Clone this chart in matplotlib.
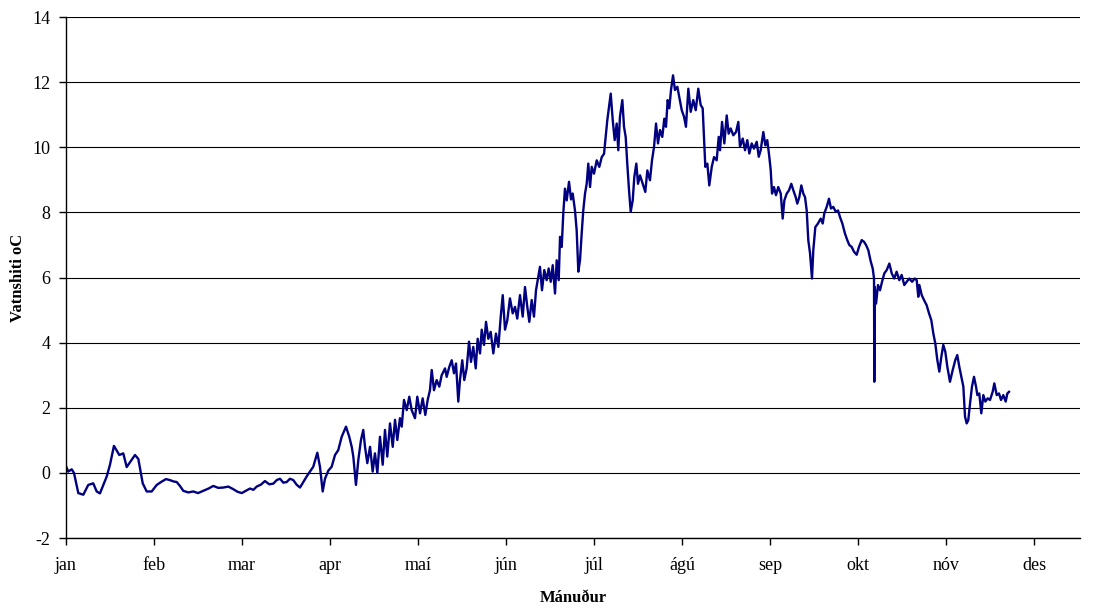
import matplotlib
matplotlib.use("Agg")
import matplotlib.pyplot as plt

plt.rcParams["font.family"] = ["Liberation Serif", "DejaVu Serif"]
plt.rcParams["axes.unicode_minus"] = False

# x-ás í mánuðum frá 1. jan (0 = jan, 1 = feb, ...)
manudir = ["jan", "feb", "mar", "apr", "maí", "jún", "júl", "ágú", "sep", "okt", "nóv", "des"]
y_ticks = [-2, 0, 2, 4, 6, 8, 10, 12, 14]

# jan - mar: vetrarhiti nálægt frostmarki
t_vetur = [0.000, 0.026, 0.065, 0.091, 0.140, 0.197, 0.253, 0.310, 0.349, 0.386,
           0.463, 0.500, 0.545, 0.606, 0.651, 0.690, 0.784, 0.822, 0.872, 0.917,
           0.974, 1.031, 1.080, 1.136, 1.180, 1.219, 1.258, 1.295, 1.333, 1.390,
           1.447, 1.500, 1.560, 1.620, 1.674, 1.730, 1.788, 1.845, 1.901, 1.950,
           1.997, 2.045, 2.091, 2.130, 2.167, 2.215, 2.261, 2.310, 2.356, 2.395,
           2.432, 2.470, 2.508, 2.545, 2.583, 2.620, 2.659]
v_vetur = [0.21, 0.04, 0.11, 0.00, -0.62, -0.67, -0.37, -0.32, -0.57, -0.63,
           -0.11, 0.25, 0.83, 0.55, 0.60, 0.18, 0.55, 0.43, -0.32, -0.57,
           -0.57, -0.37, -0.28, -0.19, -0.22, -0.26, -0.28, -0.40, -0.55, -0.60,
           -0.57, -0.62, -0.55, -0.48, -0.40, -0.46, -0.45, -0.42, -0.50, -0.58,
           -0.62, -0.55, -0.48, -0.52, -0.42, -0.36, -0.25, -0.35, -0.33, -0.22,
           -0.18, -0.30, -0.28, -0.18, -0.22, -0.36, -0.45]

# apr - jún: vorhlýnun með sveiflum
t_vor = [2.735, 2.810, 2.856, 2.886, 2.917, 2.943, 2.981, 3.019, 3.057, 3.094,
         3.133, 3.182, 3.219, 3.247, 3.265, 3.295, 3.322, 3.352, 3.378, 3.398,
         3.424, 3.455, 3.485, 3.511, 3.538, 3.568, 3.599, 3.625, 3.651, 3.682,
         3.713, 3.739, 3.765, 3.795, 3.815, 3.841, 3.872, 3.901, 3.928, 3.966,
         3.992, 4.023, 4.053, 4.083, 4.110, 4.136, 4.156, 4.182, 4.212, 4.242,
         4.269, 4.307, 4.326, 4.356, 4.383, 4.409, 4.432, 4.458, 4.477, 4.503,
         4.526, 4.553, 4.580, 4.602, 4.628, 4.656, 4.678, 4.705, 4.724, 4.750,
         4.773, 4.799, 4.826, 4.856, 4.886, 4.913, 4.940, 4.963, 4.989, 5.015,
         5.045, 5.076, 5.102, 5.128, 5.159, 5.190, 5.216, 5.242, 5.265, 5.292,
         5.318, 5.341, 5.367, 5.386, 5.409, 5.435, 5.462, 5.485, 5.508, 5.531,
         5.557, 5.576, 5.599]
v_vor = [-0.11, 0.19, 0.62, 0.19, -0.57, -0.18, 0.07, 0.19, 0.55, 0.70,
         1.11, 1.42, 1.11, 0.80, 0.50, -0.37, 0.40, 1.01, 1.32, 0.80,
         0.30, 0.80, 0.04, 0.60, 0.00, 1.11, 0.25, 1.32, 0.50, 1.52,
         0.80, 1.63, 1.01, 1.68, 1.42, 2.24, 1.93, 2.34, 1.93, 1.68,
         2.34, 1.83, 2.29, 1.78, 2.24, 2.54, 3.16, 2.54, 2.85, 2.65,
         3.00, 3.21, 2.95, 3.26, 3.46, 3.06, 3.36, 2.19, 2.85, 3.46,
         2.85, 3.21, 4.03, 3.41, 3.87, 3.21, 4.12, 3.67, 4.40, 3.93,
         4.64, 4.12, 4.33, 3.67, 4.28, 3.87, 4.79, 5.46, 4.40, 4.69,
         5.36, 4.90, 5.10, 4.74, 5.46, 4.80, 5.71, 5.10, 4.64, 5.31,
         4.80, 5.61, 6.02, 6.33, 5.61, 6.23, 5.92, 6.28, 5.87, 6.38,
         5.51, 6.53, 5.92]

# júl - ágú: sumarhámark
t_sumar = [5.614, 5.633, 5.651, 5.670, 5.690, 5.716, 5.739, 5.758, 5.784, 5.803,
           5.822, 5.841, 5.860, 5.878, 5.898, 5.917, 5.935, 5.955, 5.974, 6.000,
           6.031, 6.060, 6.088, 6.114, 6.136, 6.151, 6.170, 6.190, 6.213, 6.235,
           6.258, 6.276, 6.295, 6.322, 6.341, 6.360, 6.378, 6.398, 6.417, 6.440,
           6.458, 6.481, 6.500, 6.523, 6.553, 6.583, 6.606, 6.636, 6.659, 6.682,
           6.705, 6.727, 6.750, 6.776, 6.799, 6.818, 6.837, 6.856, 6.875, 6.898,
           6.920, 6.947, 6.969, 6.997, 7.023, 7.045, 7.072, 7.099, 7.128, 7.156,
           7.185, 7.212, 7.235]
v_sumar = [7.25, 6.94, 7.97, 8.73, 8.37, 8.94, 8.40, 8.58, 8.06, 7.45,
           6.18, 6.53, 7.35, 8.06, 8.58, 8.88, 9.50, 8.78, 9.40, 9.19,
           9.60, 9.40, 9.70, 9.80, 10.42, 10.83, 11.24, 11.65, 10.83, 10.22,
           10.73, 9.91, 10.94, 11.45, 10.63, 10.32, 9.50, 8.68, 8.02, 8.37,
           9.09, 9.50, 8.88, 9.14, 8.88, 8.63, 9.29, 8.99, 9.60, 10.01,
           10.73, 10.12, 10.53, 10.32, 10.88, 10.63, 11.45, 11.20, 11.76, 12.21,
           11.76, 11.86, 11.55, 11.14, 10.94, 10.63, 11.80, 11.09, 11.45, 11.14,
           11.80, 11.30, 11.20]

# sep - des: haustkólnun
t_haust = [7.250, 7.265, 7.288, 7.310, 7.338, 7.364, 7.394, 7.417, 7.432, 7.455,
           7.481, 7.508, 7.530, 7.553, 7.583, 7.614, 7.640, 7.659, 7.690, 7.716,
           7.742, 7.765, 7.792, 7.818, 7.849, 7.872, 7.894, 7.924, 7.947, 7.969,
           7.992, 8.008, 8.023, 8.045, 8.068, 8.094, 8.122, 8.144, 8.163, 8.190,
           8.216, 8.242, 8.265, 8.292, 8.310, 8.333, 8.356, 8.378, 8.398, 8.417,
           8.435, 8.455, 8.477, 8.492, 8.515, 8.545, 8.576, 8.599, 8.617, 8.644,
           8.670, 8.693, 8.719, 8.747, 8.773, 8.795, 8.822, 8.852, 8.878, 8.901,
           8.928, 8.955, 8.985, 9.011, 9.042, 9.068, 9.091, 9.117, 9.144, 9.167,
           9.182, 9.185, 9.190, 9.205, 9.227, 9.250, 9.273, 9.299, 9.326, 9.356,
           9.383, 9.412, 9.439, 9.469, 9.496, 9.526, 9.553, 9.583, 9.614, 9.644,
           9.667, 9.685, 9.697, 9.724, 9.750, 9.780, 9.807, 9.833, 9.856, 9.878,
           9.901, 9.924, 9.947, 9.969, 9.992, 10.015, 10.045, 10.076, 10.106, 10.128,
           10.151, 10.178, 10.197, 10.216, 10.235, 10.253, 10.273, 10.295, 10.318, 10.341,
           10.356, 10.378, 10.401, 10.424, 10.447, 10.474, 10.500, 10.530, 10.549, 10.576,
           10.602, 10.625, 10.651, 10.678, 10.697, 10.716]
v_haust = [10.32, 9.40, 9.50, 8.83, 9.40, 9.70, 9.60, 10.32, 9.91, 10.78,
           10.12, 10.98, 10.42, 10.58, 10.37, 10.47, 10.78, 10.01, 10.27, 9.91,
           10.22, 9.81, 10.12, 9.96, 10.17, 9.71, 9.91, 10.47, 10.06, 10.22,
           9.71, 9.30, 8.58, 8.78, 8.53, 8.78, 8.58, 7.81, 8.37, 8.58,
           8.68, 8.88, 8.68, 8.47, 8.27, 8.47, 8.83, 8.58, 8.47, 8.06,
           7.15, 6.74, 5.97, 6.84, 7.55, 7.66, 7.81, 7.66, 7.97, 8.17,
           8.42, 8.12, 8.17, 8.02, 8.06, 7.86, 7.66, 7.35, 7.15, 7.00,
           6.94, 6.79, 6.70, 6.94, 7.15, 7.10, 7.00, 6.84, 6.50, 6.28,
           5.97, 2.80, 5.71, 5.20, 5.77, 5.61, 5.87, 6.13, 6.23, 6.43,
           6.13, 5.97, 6.18, 5.92, 6.08, 5.77, 5.87, 5.97, 5.87, 5.97,
           5.92, 5.41, 5.77, 5.46, 5.31, 5.15, 4.90, 4.69, 4.28, 3.98,
           3.47, 3.11, 3.57, 3.93, 3.72, 3.26, 2.80, 3.16, 3.47, 3.62,
           3.26, 2.90, 2.65, 1.73, 1.52, 1.62, 2.13, 2.65, 2.95, 2.65,
           2.39, 2.44, 1.83, 2.39, 2.19, 2.29, 2.24, 2.49, 2.75, 2.39,
           2.44, 2.24, 2.39, 2.19, 2.44, 2.49]

timi = t_vetur + t_vor + t_sumar + t_haust
hiti = v_vetur + v_vor + v_sumar + v_haust

fig = plt.figure(figsize=(10.96, 6.10), dpi=100)
ax = fig.add_axes([0.0602, 0.118, 0.925, 0.854])

ax.plot(timi, hiti, color="#000080", linewidth=1.7)

ax.set_xlim(0, 11.52)
ax.set_ylim(-2, 14)
ax.set_xticks(range(len(manudir)))
ax.set_xticklabels(manudir)
ax.set_yticks(y_ticks)
ax.yaxis.grid(True, color="black", linewidth=0.8)
ax.set_axisbelow(True)

for side in ("top", "right"):
    ax.spines[side].set_visible(False)
for side in ("left", "bottom"):
    ax.spines[side].set_linewidth(1.0)
ax.tick_params(axis="both", direction="out", length=5, width=1, labelsize=13)
ax.tick_params(axis="x", pad=9)
ax.tick_params(axis="y", pad=6)

ax.set_xlabel("Mánuður", fontsize=12, fontweight="bold")
ax.set_ylabel("Vatnshiti oC", fontsize=12, fontweight="bold")
ax.xaxis.set_label_coords(0.5, -0.099)
ax.yaxis.set_label_coords(-0.039, 0.5)

fig.savefig("out.png", dpi=100)
